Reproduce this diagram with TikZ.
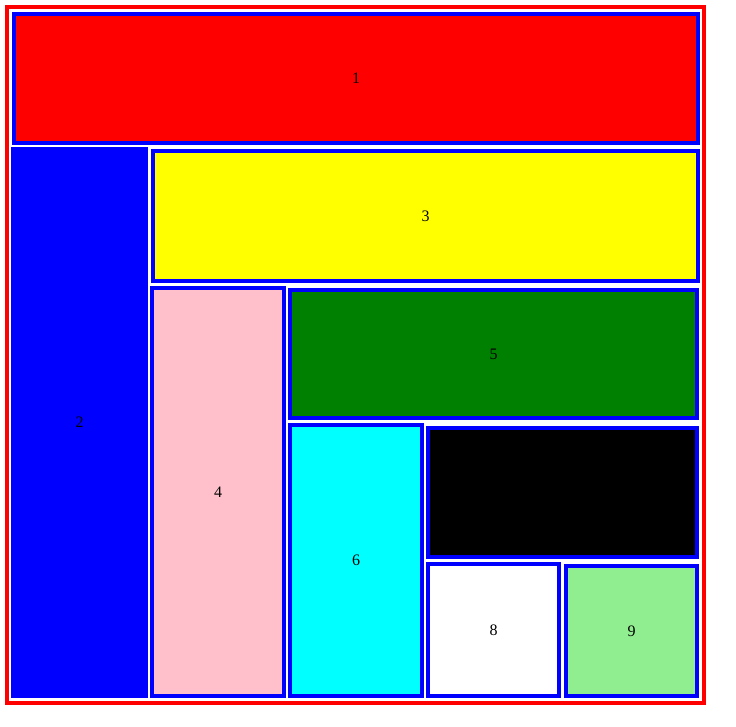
\documentclass[tikz,border=0pt]{standalone}
\usepackage{fontspec}
\setmainfont{Liberation Serif}
\usetikzlibrary{positioning}
\definecolor{htmlred}{RGB}{255, 0, 0}
\definecolor{htmlblue}{RGB}{0, 0, 255}
\definecolor{htmlyellow}{RGB}{255, 255, 0}
\definecolor{htmlpink}{RGB}{255, 192, 203}
\definecolor{htmlgreen}{RGB}{0, 128, 0}
\definecolor{htmlcyan}{RGB}{0, 255, 255}
\definecolor{htmllightgreen}{RGB}{144, 238, 144}

\begin{document}
\begin{tikzpicture}[
    x=1pt, y=-1pt,
    cellbox/.style={draw=htmlblue, line width=4pt, inner sep=0pt,
        font=\fontsize{16}{19}\selectfont},
    framebox/.style={draw=htmlred, line width=4pt, inner sep=0pt}
]
    \useasboundingbox (0,0) rectangle (736,726);
    \node[framebox, minimum width=697pt, minimum height=696pt] (frame) at (355.5,355) {};

    \node[cellbox, fill=htmlred, minimum width=684pt, minimum height=129pt] (one) at (356,78.5) {1};
    \node[cellbox, fill=htmlblue, minimum width=133pt, minimum height=547pt] (two) at (79.5,422.5) {2};
    \node[cellbox, fill=htmlyellow, minimum width=545pt, minimum height=130pt] (three) at (425.5,216) {3};
    \node[cellbox, fill=htmlpink, minimum width=132pt, minimum height=408pt] (four) at (218,492) {4};
    \node[cellbox, fill=htmlgreen, minimum width=407pt, minimum height=128pt] (five) at (493.5,354) {5};
    \node[cellbox, fill=htmlcyan, minimum width=132pt, minimum height=271pt] (six) at (356,560.5) {6};
    \node[cellbox, fill=black, minimum width=269pt, minimum height=129pt] (seven) at (562.5,492.5) {7};
    \node[cellbox, fill=white, minimum width=131pt, minimum height=132pt] (eight) at (493.5,630) {8};
    \node[cellbox, fill=htmllightgreen, minimum width=131pt, minimum height=130pt] (nine) at (631.5,631) {9};
\end{tikzpicture}
\end{document}
